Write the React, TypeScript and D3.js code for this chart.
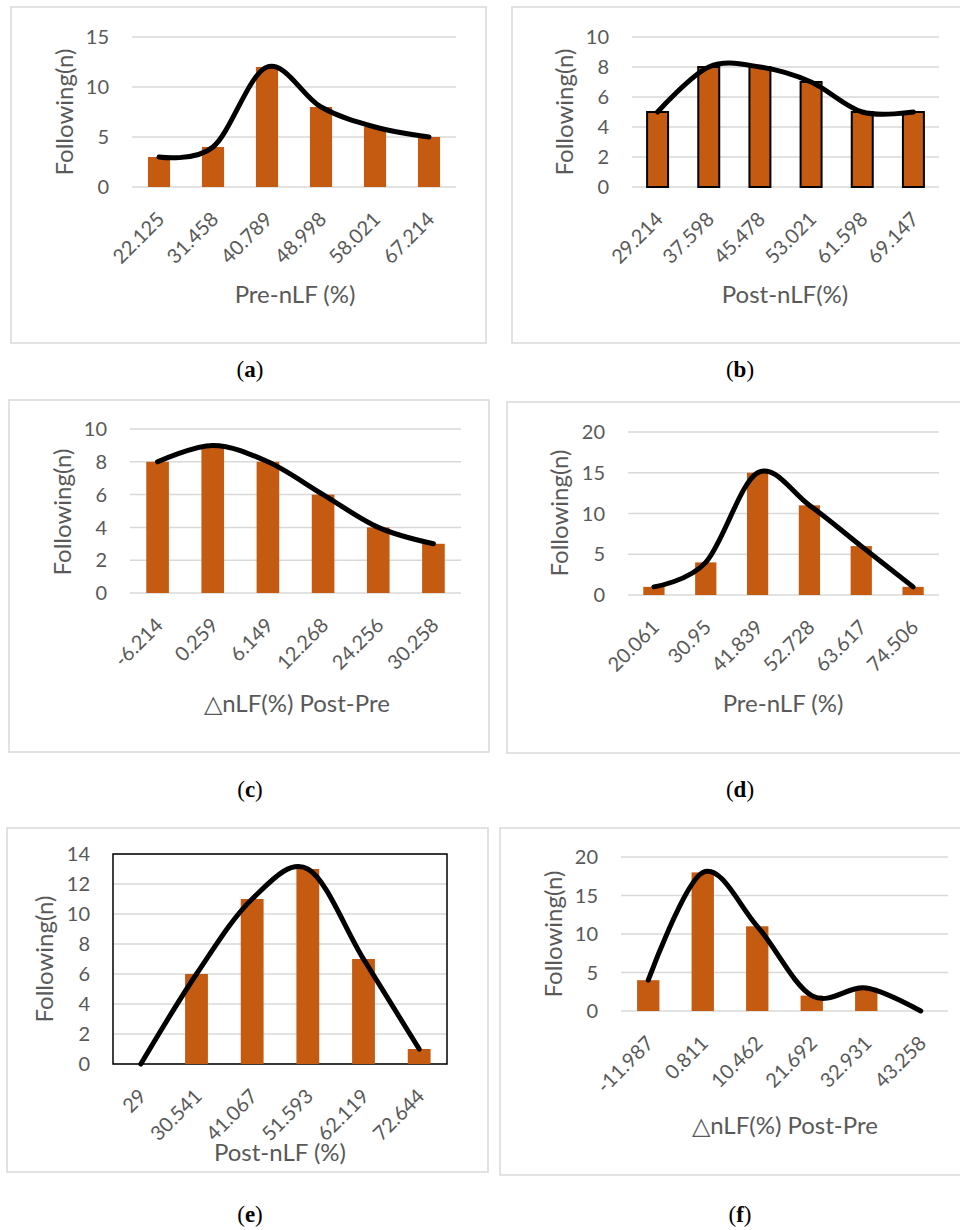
import React from "react";
import * as d3 from "d3";

// ---------- data ----------
const aCats = ["22.125", "31.458", "40.789", "48.998", "58.021", "67.214"];
const aVals = [3, 4, 12, 8, 6, 5];
const bCats = ["29.214", "37.598", "45.478", "53.021", "61.598", "69.147"];
const bVals = [5, 8, 8, 7, 5, 5];
const cCats = ["-6.214", "0.259", "6.149", "12.268", "24.256", "30.258"];
const cVals = [8, 9, 8, 6, 4, 3];
const dCats = ["20.061", "30.95", "41.839", "52.728", "63.617", "74.506"];
const dVals = [1, 4, 15, 11, 6, 1];
const eCats = ["29", "30.541", "41.067", "51.593", "62.119", "72.644"];
const eVals = [0, 6, 11, 13, 7, 1];
const fCats = ["-11.987", "0.811", "10.462", "21.692", "32.931", "43.258"];
const fVals = [4, 18, 11, 2, 3, 0];

const yTitle = "Following(n)";
const xTitles = ["Pre-nLF (%)", "Post-nLF(%)", "△nLF(%) Post-Pre", "Pre-nLF (%)", "Post-nLF (%)", "△nLF(%) Post-Pre"];
const captions = ["a", "b", "c", "d", "e", "f"];
const yMaxes = [15, 10, 10, 20, 14, 20];
const ySteps = [5, 2, 2, 5, 2, 5];

// ---------- layout ----------
type Layout = {
  frame: [number, number, number, number];
  plot: [number, number, number, number]; // left, right, top, bottom
  yTitleX: number;
  yTitleY: number;
  xTitleX: number;
  xTitleY: number;
  capX: number;
  capY: number;
  barStroke?: boolean;
  box?: boolean;
};

const layouts: Layout[] = [
  { frame: [11, 7, 486, 343], plot: [132, 456, 37, 187], yTitleX: 63, yTitleY: 112, xTitleX: 295, xTitleY: 303, capX: 250, capY: 377 },
  { frame: [512, 7, 966, 343], plot: [632, 939, 37, 187], yTitleX: 563, yTitleY: 112, xTitleX: 785, xTitleY: 303, capX: 740, capY: 377, barStroke: true },
  { frame: [9, 400, 489, 752], plot: [130, 461, 429, 593], yTitleX: 61, yTitleY: 512, xTitleX: 297, xTitleY: 712, capX: 250, capY: 797 },
  { frame: [507, 402, 966, 753], plot: [628, 939, 432, 595], yTitleX: 558, yTitleY: 513, xTitleX: 783, xTitleY: 712, capX: 740, capY: 797 },
  { frame: [7, 828, 488, 1172], plot: [113, 447, 854, 1064], yTitleX: 43, yTitleY: 959, xTitleX: 280, xTitleY: 1161, capX: 250, capY: 1222, box: true },
  { frame: [500, 828, 966, 1175], plot: [621, 948, 857, 1011], yTitleX: 552, yTitleY: 934, xTitleX: 785, xTitleY: 1134, capX: 740, capY: 1222 },
];

const panelData: [string[], number[]][] = [
  [aCats, aVals],
  [bCats, bVals],
  [cCats, cVals],
  [dCats, dVals],
  [eCats, eVals],
  [fCats, fVals],
];

const BAR = "#C55A11";
const GRID = "#D9D9D9";
const TXT = "#595959";
const FONT = "Lato, 'Noto Sans', sans-serif";

function Panel({ i }: { i: number }) {
  const L = layouts[i];
  const [cats, vals] = panelData[i];
  const [pl, pr, pt, pb] = L.plot;
  const x = d3.scaleBand<string>().domain(cats).range([pl, pr]).paddingInner(0.59).paddingOuter(0.295);
  const y = d3.scaleLinear().domain([0, yMaxes[i]]).range([pb, pt]);
  const ticks = d3.range(0, yMaxes[i] + 0.001, ySteps[i]);
  const cx = (c: string) => (x(c) as number) + x.bandwidth() / 2;
  const line = d3
    .line<number>()
    .x((_, j) => cx(cats[j]))
    .y((v) => y(v))
    .curve(d3.curveCardinal.tension(0));
  const [fx0, fy0, fx1, fy1] = L.frame;
  return (
    <g>
      <rect x={fx0} y={fy0} width={fx1 - fx0} height={fy1 - fy0} fill="#fff" stroke={GRID} strokeWidth={1.5} />
      {ticks.map((t) => (
        <line key={"g" + t} x1={pl} x2={pr} y1={y(t)} y2={y(t)} stroke={GRID} strokeWidth={1.5} />
      ))}
      {L.box && (
        <rect x={pl} y={pt} width={pr - pl} height={pb - pt} fill="none" stroke="#000" strokeWidth={1.5} />
      )}
      {ticks.map((t) => (
        <text key={"t" + t} x={pl - 23} y={y(t)} dy="0.36em" textAnchor="end" fontSize={20} fill={TXT} fontFamily={FONT}>
          {t}
        </text>
      ))}
      {vals.map((v, j) =>
        v > 0 ? (
          <rect
            key={"b" + j}
            x={x(cats[j])}
            y={y(v)}
            width={x.bandwidth()}
            height={y(0) - y(v)}
            fill={BAR}
            stroke={L.barStroke ? "#000" : "none"}
            strokeWidth={L.barStroke ? 2 : 0}
          />
        ) : null
      )}
      <path d={line(vals) || ""} fill="none" stroke="#000" strokeWidth={5} strokeLinecap="round" strokeLinejoin="round" />
      {cats.map((c) => (
        <text
          key={"x" + c}
          transform={`translate(${cx(c) + 1},${pb + 28}) rotate(-45)`}
          textAnchor="end"
          dominantBaseline="central"
          fontSize={20}
          fill={TXT}
          fontFamily={FONT}
        >
          {c}
        </text>
      ))}
      <text x={L.xTitleX} y={L.xTitleY} textAnchor="middle" fontSize={24} fill={TXT} fontFamily={FONT}>
        {xTitles[i]}
      </text>
      <text
        transform={`translate(${L.yTitleX},${L.yTitleY}) rotate(-90)`}
        textAnchor="middle"
        dominantBaseline="central"
        fontSize={24}
        fill={TXT}
        fontFamily={FONT}
      >
        {yTitle}
      </text>
      <text x={L.capX} y={L.capY} textAnchor="middle" fontSize={23} fill="#000" fontFamily="'Liberation Serif', 'Times New Roman', serif">
        (<tspan fontWeight="bold">{captions[i]}</tspan>)
      </text>
    </g>
  );
}

export default function App() {
  return (
    <svg width={960} height={1230} style={{ position: "absolute", left: 0, top: 0, background: "#fff" }}>
      <rect width={960} height={1230} fill="#fff" />
      {layouts.map((_, i) => (
        <Panel key={i} i={i} />
      ))}
    </svg>
  );
}
